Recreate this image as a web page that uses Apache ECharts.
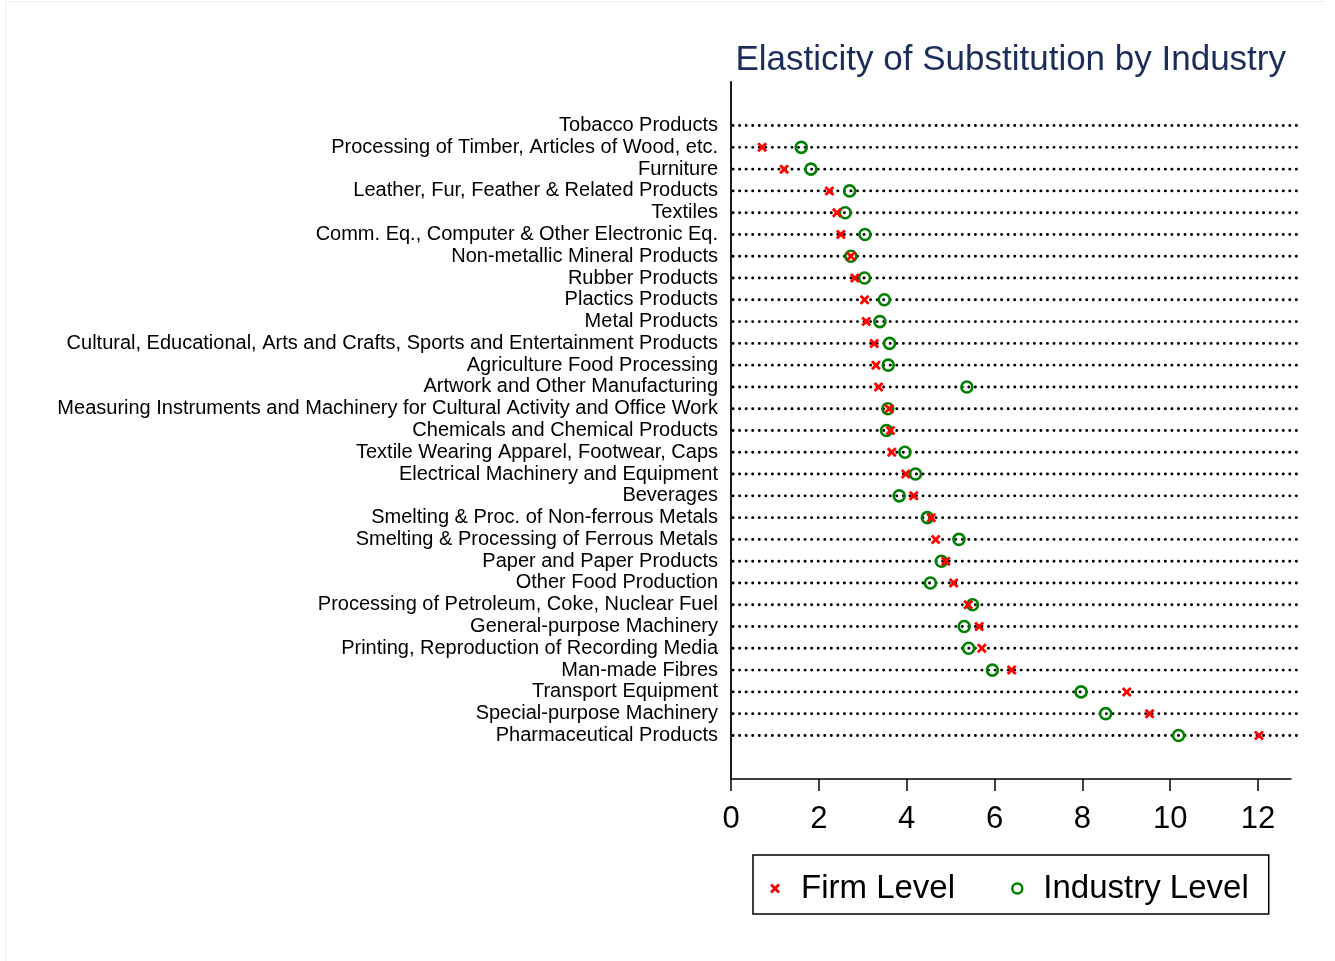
<!DOCTYPE html>
<html>
<head>
<meta charset="utf-8">
<title>Elasticity of Substitution by Industry</title>
<script src="https://cdn.jsdelivr.net/npm/echarts@6/dist/echarts.min.js"></script>
<style>
  html, body { margin: 0; padding: 0; background: #ffffff; }
  #chart { width: 1335px; height: 961px; }
</style>
</head>
<body>
<div id="chart"></div>
<script>
// Industries, top to bottom
const industries = [
  'Tobacco Products',
  'Processing of Timber, Articles of Wood, etc.',
  'Furniture',
  'Leather, Fur, Feather & Related Products',
  'Textiles',
  'Comm. Eq., Computer & Other Electronic Eq.',
  'Non-metallic Mineral Products',
  'Rubber Products',
  'Plactics Products',
  'Metal Products',
  'Cultural, Educational, Arts and Crafts, Sports and Entertainment Products',
  'Agriculture Food Processing',
  'Artwork and Other Manufacturing',
  'Measuring Instruments and Machinery for Cultural Activity and Office Work',
  'Chemicals and Chemical Products',
  'Textile Wearing Apparel, Footwear, Caps',
  'Electrical Machinery and Equipment',
  'Beverages',
  'Smelting & Proc. of Non-ferrous Metals',
  'Smelting & Processing of Ferrous Metals',
  'Paper and Paper Products',
  'Other Food Production',
  'Processing of Petroleum, Coke, Nuclear Fuel',
  'General-purpose Machinery',
  'Printing, Reproduction of Recording Media',
  'Man-made Fibres',
  'Transport Equipment',
  'Special-purpose Machinery',
  'Pharmaceutical Products'
];

// Estimated elasticities (null = not estimated)
const firmLevel = [
  null, 0.71, 1.21, 2.24, 2.41, 2.50, 2.73, 2.82, 3.04, 3.08,
  3.26, 3.30, 3.36, 3.60, 3.63, 3.66, 3.98, 4.16, 4.56, 4.66,
  4.89, 5.07, 5.40, 5.65, 5.71, 6.39, 9.01, 9.53, 12.02
];
const industryLevel = [
  null, 1.60, 1.82, 2.70, 2.60, 3.05, 2.73, 3.04, 3.49, 3.39,
  3.61, 3.58, 5.37, 3.57, 3.54, 3.96, 4.20, 3.83, 4.47, 5.19,
  4.79, 4.54, 5.50, 5.31, 5.41, 5.95, 7.97, 8.53, 10.19
];

// x-axis tick values
const xTicks = [0, 2, 4, 6, 8, 10, 12];

const FONT = '"Liberation Sans", Arial, Helvetica, sans-serif';
const RED = '#ff0000';
const GREEN = '#008000';
const CROSS = 'path://M2,0 L5,3 L8,0 L10,2 L7,5 L10,8 L8,10 L5,7 L2,10 L0,8 L3,5 L0,2 Z';

const rowIdx = industries.map((_, i) => i);

function pairs(values) {
  return values.map((v, i) => (v == null ? [null, i] : [v, i]));
}

const chart = echarts.init(document.getElementById('chart'), null, { renderer: 'canvas' });

chart.setOption({
  backgroundColor: '#ffffff',
  animation: false,
  title: {
    text: 'Elasticity of Substitution by Industry',
    right: 44,
    top: 38,
    textStyle: { fontFamily: FONT, fontSize: 35, fontWeight: 'normal', color: '#1c2d5a' }
  },
  graphic: [
    { type: 'line', shape: { x1: 5, y1: 1.5, x2: 1325, y2: 1.5 }, style: { stroke: '#eeeeee', lineWidth: 1 }, silent: true },
    { type: 'line', shape: { x1: 5.5, y1: 1, x2: 5.5, y2: 961 }, style: { stroke: '#eeeeee', lineWidth: 1 }, silent: true }
  ],
  legend: {
    left: 753,
    top: 855,
    orient: 'horizontal',
    padding: [17, 20, 9, 17],
    itemGap: 56,
    itemWidth: 10,
    itemHeight: 10,
    borderColor: '#000000',
    borderWidth: 1.5,
    textStyle: { fontFamily: FONT, fontSize: 33, color: '#000000', padding: [0, 0, 0, 16] },
    data: [
      { name: 'Firm Level', icon: CROSS, itemStyle: { color: RED, borderWidth: 0 } },
      { name: 'Industry Level', icon: 'circle', itemStyle: { color: 'rgba(0,0,0,0)', borderColor: GREEN, borderWidth: 2.5 } }
    ]
  },
  grid: { left: 731, right: 44, top: 82, bottom: 182, containLabel: false },
  xAxis: {
    type: 'value',
    min: 0,
    max: 12.75,
    interval: 2,
    splitLine: { show: false },
    axisLine: { show: true, onZero: false, lineStyle: { color: '#000000', width: 1.5 } },
    axisTick: { show: true, length: 12, customValues: xTicks, lineStyle: { color: '#000000', width: 1.5 } },
    axisLabel: { customValues: xTicks, margin: 25, fontFamily: FONT, fontSize: 31, color: '#000000' }
  },
  yAxis: {
    type: 'value',
    inverse: true,
    min: -2,
    max: 30,
    interval: 1,
    splitLine: { show: false },
    axisLine: { show: true, onZero: false, lineStyle: { color: '#000000', width: 1.8 } },
    axisTick: { show: false },
    axisLabel: {
      customValues: rowIdx,
      showMinLabel: true,
      showMaxLabel: true,
      margin: 13,
      fontFamily: FONT,
      fontSize: 20,
      color: '#000000',
      formatter: (v) => industries[v] || ''
    }
  },
  series: [
    {
      // dotted guide line for every industry row
      type: 'custom',
      name: 'rows',
      silent: true,
      z: 1,
      data: rowIdx.map((i) => [0, i]),
      encode: { x: 0, y: 1 },
      renderItem: function (params, api) {
        const p = api.coord([0, api.value(1)]);
        const cs = params.coordSys;
        return {
          type: 'line',
          shape: { x1: cs.x + 2, y1: p[1], x2: cs.x + cs.width + 6, y2: p[1] },
          style: { stroke: '#000000', lineWidth: 2.9, lineDash: [0.1, 6.45], lineCap: 'round' }
        };
      }
    },
    {
      type: 'scatter',
      name: 'Industry Level',
      z: 3,
      symbol: 'circle',
      symbolSize: 11,
      itemStyle: { color: 'rgba(0,0,0,0)', borderColor: GREEN, borderWidth: 2.6, opacity: 1 },
      data: pairs(industryLevel)
    },
    {
      type: 'scatter',
      name: 'Firm Level',
      z: 4,
      symbol: CROSS,
      symbolSize: 10,
      itemStyle: { color: RED, opacity: 1 },
      data: pairs(firmLevel)
    }
  ]
});
</script>
</body>
</html>
